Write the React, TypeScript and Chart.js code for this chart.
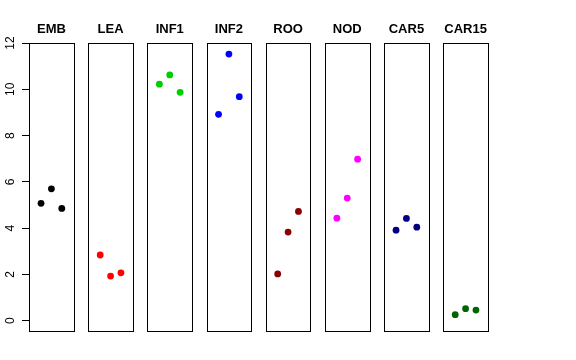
import React, { useEffect, useRef } from "react";
import { Chart, registerables } from "chart.js";

Chart.register(...registerables);

const categories = ["EMB", "LEA", "INF1", "INF2", "ROO", "NOD", "CAR5", "CAR15"];
const colors = ["#000000", "#FF0000", "#00CD00", "#0000FF", "#8B0000", "#FF00FF", "#000080", "#006400"];
const rep1 = [5.07, 2.84, 10.22, 8.92, 2.02, 4.43, 3.91, 0.26];
const rep2 = [5.70, 1.93, 10.62, 11.52, 3.83, 5.30, 4.42, 0.52];
const rep3 = [4.85, 2.07, 9.87, 9.68, 4.72, 6.98, 4.04, 0.46];
const yTicks = [0, 2, 4, 6, 8, 10, 12];

const GAP = 5.703; // panel spacing in x units
const XLO = -0.16;
const XHI = 4.16;

const panelPlugin = {
  id: "panels",
  beforeDatasetsDraw(chart: any) {
    const ctx = chart.ctx;
    const xs = chart.scales.x;
    const ys = chart.scales.y;
    const area = chart.chartArea;
    ctx.save();
    ctx.strokeStyle = "#000";
    ctx.lineWidth = 1;
    categories.forEach((_, k) => {
      const l = Math.round(xs.getPixelForValue(k * GAP + XLO)) + 0.5;
      const r = Math.round(xs.getPixelForValue(k * GAP + XHI)) + 0.5;
      ctx.strokeRect(l, Math.round(area.top) + 0.5, r - l, Math.round(area.bottom - area.top));
    });
    ctx.fillStyle = "#000";
    ctx.font = "bold 13px 'Liberation Sans', Arial, sans-serif";
    ctx.textAlign = "center";
    ctx.textBaseline = "middle";
    categories.forEach((name, k) => {
      const cx = xs.getPixelForValue(k * GAP + 2);
      ctx.fillText(name, cx, 29.5);
    });
    // y tick labels, rotated (reading bottom to top), centred on ticks
    ctx.font = "12px 'Liberation Sans', Arial, sans-serif";
    yTicks.forEach((v) => {
      const py = ys.getPixelForValue(v);
      ctx.save();
      ctx.translate(10.5, py);
      ctx.rotate(-Math.PI / 2);
      ctx.textAlign = "center";
      ctx.textBaseline = "middle";
      ctx.fillText(String(v), 0, 0);
      ctx.restore();
    });
    ctx.restore();
  },
};

export default function App() {
  const ref = useRef<HTMLCanvasElement>(null);
  useEffect(() => {
    if (!ref.current) return;
    const datasets = categories.map((name, k) => ({
      label: name,
      data: [rep1[k], rep2[k], rep3[k]].map((v, j) => ({ x: k * GAP + j + 1, y: v })),
      backgroundColor: colors[k],
      borderColor: colors[k],
      borderWidth: 0,
      pointRadius: 3.4,
      pointHoverRadius: 3.4,
      showLine: false,
    }));
    const chart = new Chart(ref.current, {
      type: "scatter",
      data: { datasets },
      plugins: [panelPlugin],
      options: {
        animation: false,
        responsive: false,
        devicePixelRatio: 1,
        layout: { padding: { top: 43, bottom: 29, right: 88, left: 0 } },
        plugins: { legend: { display: false }, tooltip: { enabled: false } },
        scales: {
          x: {
            type: "linear",
            min: XLO,
            max: 7 * GAP + XHI,
            display: false,
          },
          y: {
            type: "linear",
            min: -0.445,
            max: 12.0,
            afterBuildTicks: (scale: any) => {
              scale.ticks = yTicks.map((v) => ({ value: v }));
            },
            afterFit: (scale: any) => {
              scale.width = 29;
            },
            border: { display: false },
            grid: {
              drawOnChartArea: false,
              drawTicks: true,
              tickLength: 7,
              color: "#000",
              lineWidth: 1,
            },
            ticks: {
              display: false,
            },
          },
        },
      },
    });
    return () => chart.destroy();
  }, []);
  return (
    <div style={{ position: "fixed", left: 0, top: 0, width: 576, height: 360, background: "#fff" }}>
      <canvas ref={ref} width={576} height={360} style={{ width: 576, height: 360 }} />
    </div>
  );
}
